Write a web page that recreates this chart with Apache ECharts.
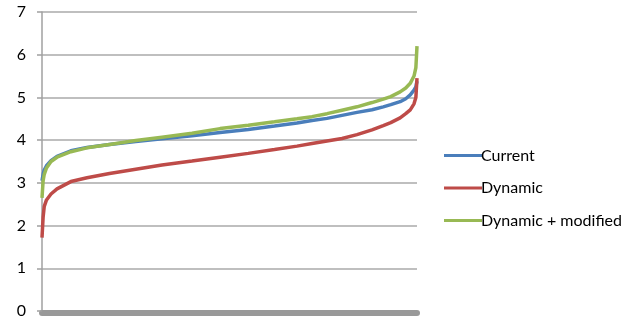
<!DOCTYPE html>
<html><head><meta charset="utf-8">
<script src="https://cdn.jsdelivr.net/npm/echarts@6/dist/echarts.min.js"></script>
<style>html,body{margin:0;padding:0;background:#fff}#c{width:643px;height:327px}</style>
</head><body><div id="c"></div>
<script>
const seriesNames = ['Current', 'Dynamic', 'Dynamic + modified'];
const positions = [0, 0.3, 0.6, 1.2, 2.4, 4, 7.7, 12, 18, 25, 32, 40, 47.5, 55, 62, 68, 72, 76, 80, 84, 88, 91, 93, 95.5, 97, 98.2, 99.2, 99.7, 100];
const current = [3.05, 3.2, 3.3, 3.4, 3.52, 3.62, 3.75, 3.83, 3.90, 3.97, 4.03, 4.10, 4.18, 4.25, 4.33, 4.40, 4.46, 4.51, 4.58, 4.65, 4.71, 4.78, 4.83, 4.90, 4.97, 5.06, 5.17, 5.25, 5.38];
const dynamic = [1.72, 2.2, 2.45, 2.6, 2.74, 2.86, 3.03, 3.12, 3.22, 3.32, 3.42, 3.51, 3.60, 3.69, 3.78, 3.86, 3.92, 3.98, 4.04, 4.13, 4.24, 4.34, 4.41, 4.52, 4.62, 4.71, 4.85, 5.0, 5.45];
const dynamicModified = [2.65, 3.05, 3.2, 3.35, 3.5, 3.6, 3.73, 3.82, 3.90, 3.99, 4.07, 4.16, 4.27, 4.35, 4.43, 4.50, 4.55, 4.62, 4.70, 4.78, 4.88, 4.96, 5.02, 5.13, 5.22, 5.33, 5.5, 5.7, 6.2];
const yTicks = [0, 1, 2, 3, 4, 5, 6, 7];
const colors = ['#4a7ebb', '#be4b48', '#98b954'];

const pair = arr => positions.map((p, i) => [p, arr[i]]);
const chart = echarts.init(document.getElementById('c'), null, {renderer: 'canvas'});
const font = 'Lato, "Open Sans", sans-serif';
chart.setOption({
  animation: false,
  color: colors,
  grid: {left: 42, right: 226, top: 12, bottom: 16},
  xAxis: {
    type: 'value', min: 0, max: 100,
    axisLine: {show: true, onZero: false, lineStyle: {color: '#999', width: 6}},
    offset: 2,
    axisTick: {show: false}, axisLabel: {show: false}, splitLine: {show: false}
  },
  yAxis: {
    type: 'value', min: yTicks[0], max: yTicks[yTicks.length - 1], interval: 1,
    axisLine: {show: true, lineStyle: {color: '#a0a0a0', width: 1.5}},
    axisTick: {show: true, length: 5, lineStyle: {color: '#a0a0a0', width: 1.5}},
    axisLabel: {color: '#000', fontSize: 16, fontFamily: font, margin: 16},
    splitLine: {lineStyle: {color: '#aaaaaa', width: 1.5}}
  },
  legend: {
    orient: 'vertical', left: 439, top: 142, itemWidth: 38, itemHeight: 3, itemGap: 15.5,
    icon: 'rect',
    textStyle: {color: '#000', fontSize: 16, fontFamily: font, lineHeight: 17, padding: [0,0,0,-6]},
    data: seriesNames
  },
  series: [
    {name: seriesNames[0], type: 'line', data: pair(current), showSymbol: false, lineStyle: {width: 3.5}},
    {name: seriesNames[1], type: 'line', data: pair(dynamic), showSymbol: false, lineStyle: {width: 3.5}},
    {name: seriesNames[2], type: 'line', data: pair(dynamicModified), showSymbol: false, lineStyle: {width: 3.5}, z: 3}
  ]
});
</script></body></html>
